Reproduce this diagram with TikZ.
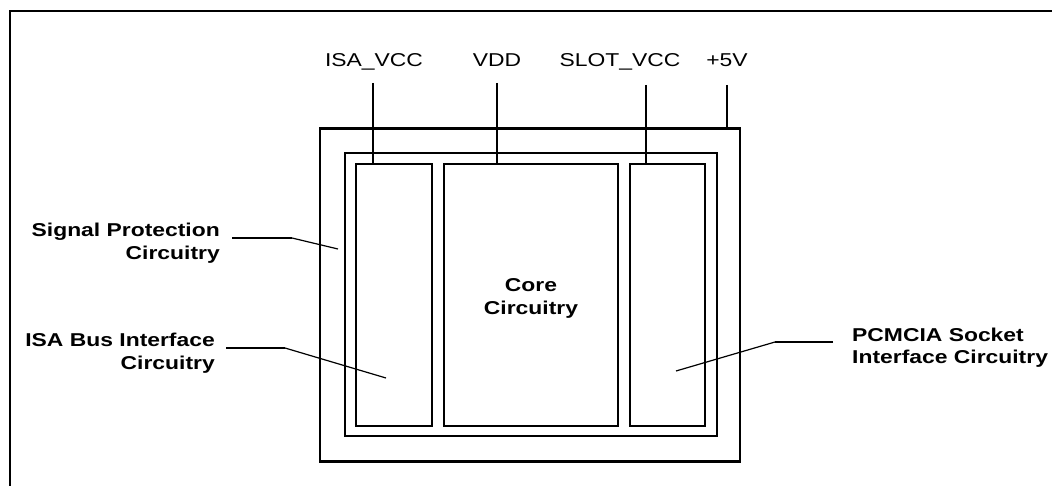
\documentclass[tikz,border=0pt]{standalone}
\usepackage{fontspec}
\setmainfont{Liberation Sans}
\newfontfamily\stretchsans[FakeStretch=1.23]{Liberation Sans}
\begin{document}
\begin{tikzpicture}[x=1pt,y=-1pt,
  box/.style={draw, line width=2.4pt, inner sep=0pt, outer sep=0pt},
  frame/.style={line width=2.8pt},
  wire/.style={line width=2.2pt},
  leadh/.style={line width=2.2pt},
  leads/.style={line width=1.2pt},
  supply/.style={font=\fontsize{18.6}{23}\selectfont\stretchsans, inner sep=0pt, anchor=base},
  lab/.style={font=\fontsize{18.6}{23}\selectfont\stretchsans\bfseries, inner sep=0pt}]
\useasboundingbox (0,0) rectangle (1052,486);
% open frame
\draw[frame] (10,486) -- (10,11) -- (1052,11);
% boxes
\node[box, minimum width=420pt, minimum height=333pt] (outer) at (530,295) {};
\node[box, minimum width=372pt, minimum height=283pt] (inner) at (531,294.5) {};
\node[box, minimum width=76pt, minimum height=262pt] (lbox) at (394,295) {};
\node[box, minimum width=174pt, minimum height=262pt] (cbox) at (531,295) {};
\node[box, minimum width=75pt, minimum height=262pt] (rbox) at (667.5,295) {};
\node[lab, align=center, anchor=north] (core) at (531,278) {Core\\Circuitry};
% supply labels
\node[supply] (isa) at (374,67) {ISA\_VCC};
\node[supply] (vdd) at (497,67) {VDD};
\node[supply] (slot) at (620,67) {SLOT\_VCC};
\node[supply] (p5) at (727,67) {+5V};
\coordinate (isaW) at (373,83);
\coordinate (vddW) at (497,83);
\coordinate (slotW) at (646,85);
\coordinate (p5W) at (727,85);
\draw[wire] (isaW) -- (isaW |- lbox.north);
\draw[wire] (vddW) -- (vddW |- cbox.north);
\draw[wire] (slotW) -- (slotW |- rbox.north);
\draw[wire] (p5W) -- (p5W |- outer.north);
% side labels
\node[lab, align=right, anchor=north east] (sp) at (220,223) {Signal Protection\\Circuitry};
\node[lab, align=right, anchor=north east] (isab) at (215,333) {ISA Bus Interface\\Circuitry};
\node[lab, align=left, anchor=north west, font=\fontsize{18.6}{22}\selectfont\stretchsans\bfseries] (pcm) at (852,328) {PCMCIA Socket\\Interface Circuitry};
% leaders
\coordinate (spA) at (232,238);
\coordinate (spB) at (292,238);
\coordinate (spT) at (338,249);
\draw[leadh] (spA) -- (spB);
\draw[leads] (spB) -- (spT);
\coordinate (isabA) at (226,348);
\coordinate (isabB) at (285,348);
\coordinate (isabT) at (386,378);
\draw[leadh] (isabA) -- (isabB);
\draw[leads] (isabB) -- (isabT);
\coordinate (pcmA) at (833,342);
\coordinate (pcmB) at (775,342);
\coordinate (pcmT) at (676,371);
\draw[leadh] (pcmA) -- (pcmB);
\draw[leads] (pcmB) -- (pcmT);
\end{tikzpicture}
\end{document}
